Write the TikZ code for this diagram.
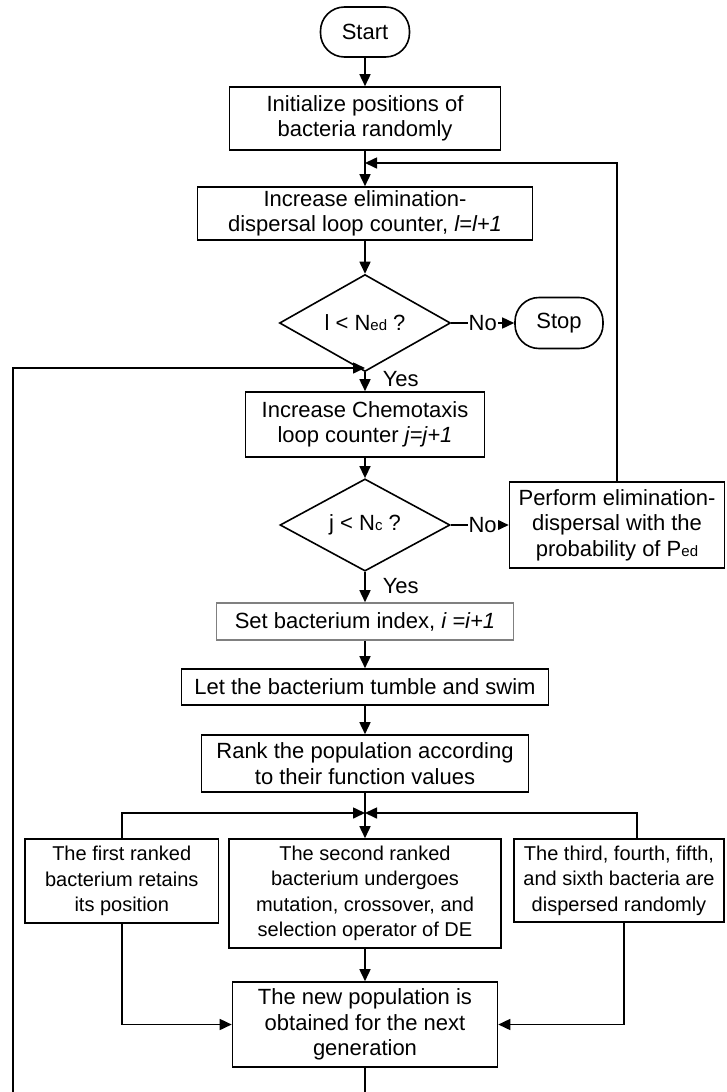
\documentclass[tikz,border=0pt]{standalone}
\usepackage{fontspec}
\setmainfont{Liberation Sans}
\usetikzlibrary{arrows.meta,shapes.geometric}

% smaller letters set on the baseline (N_ed, N_c, P_ed)
\newcommand{\lowidx}[1]{{\fontsize{15}{15}\selectfont #1}}

\begin{document}
\begin{tikzpicture}[x=1pt,y=-1pt,
  every node/.style={font=\fontsize{22}{25.5}\selectfont},
  procbox/.style={draw, line width=1.6pt, rectangle, inner sep=0pt, align=center},
  branchtext/.style={font=\fontsize{20}{25.5}\selectfont},
  term/.style={draw, line width=1.6pt, rectangle, rounded corners=24pt, inner sep=0pt},
  dec/.style={draw, line width=1.6pt, shape=diamond, inner sep=0pt},
  flow/.style={line width=1.6pt, -{Triangle[length=12pt,width=11pt]}},
  nolbl/.style={fill=white, inner sep=1pt},
  yeslbl/.style={anchor=west, inner sep=2pt, xshift=15pt}
]
\useasboundingbox (0,0) rectangle (726,1092);
\clip (0,0) rectangle (726,1092);

% junction points on the main column
\coordinate (fb) at (365,163);
\coordinate (y1) at (365,368);
\coordinate (m) at (365,813);

% nodes
\node[term, minimum width=89pt, minimum height=50pt] (start) at (365,32) {Start};
\node[procbox, minimum width=271pt, minimum height=63pt] (init) at (365,118.5)
  {Initialize positions of\\bacteria randomly};
\node[procbox, minimum width=335pt, minimum height=53pt] (inced) at (365,213.5)
  {Increase elimination-\\dispersal loop counter, \textit{l=l+1}};
\node[dec, minimum width=171pt, minimum height=62pt] (d1) at (365,323)
  {l < N\lowidx{ed} ?};
\node[term, minimum width=88pt, minimum height=51pt] (stop) at (559,323) {Stop};
\node[procbox, minimum width=239pt, minimum height=65pt] (chemo) at (365,424.5)
  {Increase Chemotaxis\\loop counter \textit{j=j+1}};
\node[dec, minimum width=170pt, minimum height=68pt] (d2) at (365,525)
  {j < N\lowidx{c} ?};
\node[procbox, minimum width=215pt, minimum height=86pt] (perf) at (617,525)
  {Perform elimination-\\dispersal with the\\probability of P\lowidx{ed}};
\node[procbox, draw=gray, minimum width=297pt, minimum height=37pt] (setidx) at (365,621.5)
  {Set bacterium index, \textit{i =i+1}};
\node[procbox, minimum width=367pt, minimum height=36pt] (tumble) at (365,687)
  {Let the bacterium tumble and swim};
\node[procbox, minimum width=327pt, minimum height=57pt] (rank) at (365,763.5)
  {Rank the population according\\to their function values};
\node[procbox, branchtext, minimum width=193.5pt, minimum height=84pt] (first) at (121.75,881)
  {The first ranked\\bacterium retains\\its position};
\node[procbox, branchtext, minimum width=272pt, minimum height=109pt] (second) at (365,893.5)
  {The second ranked\\bacterium undergoes\\mutation, crossover, and\\selection operator of DE};
\node[procbox, branchtext, minimum width=210pt, minimum height=83pt] (third) at (619,880.5)
  {The third, fourth, fifth,\\and sixth bacteria are\\dispersed randomly};
\node[procbox, minimum width=265pt, minimum height=85pt] (newpop) at (365,1024.5)
  {The new population is\\obtained for the next\\generation};

% connectors
\draw[flow] (start) -- (init);
\draw[flow] (init) -- (inced);
\draw[flow] (perf.north) |- (fb);
\draw[flow] (inced) -- (d1);
\draw[flow] (d1) -- node[nolbl]{No} (stop);
\draw[flow] (d1) -- node[yeslbl, pos=0.37]{Yes} (chemo);
\draw[flow] (chemo) -- (d2);
\draw[flow] (d2) -- node[nolbl, pos=0.55]{No} (perf);
\draw[flow] (d2) -- node[yeslbl, pos=0.48]{Yes} (setidx);
\draw[flow] (setidx) -- (tumble);
\draw[flow] (tumble) -- (rank);
\draw[flow] (rank) -- (second);
\draw[flow] (first.north) |- (m);
\draw[flow] ([xshift=18pt]third.north) |- (m);
\draw[flow] (second) -- (newpop);
\draw[flow] (first.south) |- (newpop.west);
\draw[flow] ([xshift=5pt]third.south) |- (newpop.east);
\draw[flow] (newpop.south) -- ++(0,40) -| (13,368) -- (y1);
\end{tikzpicture}
\end{document}
